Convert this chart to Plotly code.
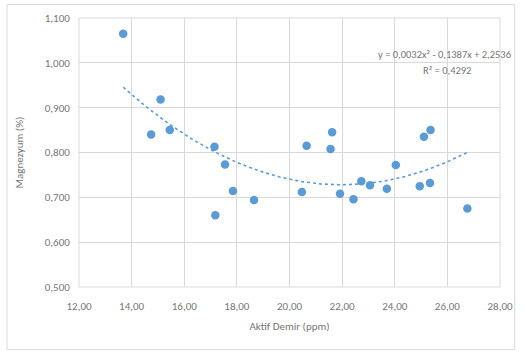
import numpy as np
import plotly.graph_objects as go

aktif_demir = [13.68, 15.10, 14.74, 15.45, 17.15, 17.55, 17.85, 18.65, 17.18,
               20.65, 21.62, 21.56, 20.47, 21.92, 22.43, 22.73, 23.06, 23.70,
               24.04, 25.11, 25.36, 24.95, 25.34, 26.76]
magnezyum = [1.065, 0.918, 0.840, 0.850, 0.813, 0.773, 0.714, 0.694, 0.660,
             0.815, 0.845, 0.808, 0.712, 0.708, 0.696, 0.736, 0.727, 0.719,
             0.772, 0.835, 0.850, 0.725, 0.732, 0.675]
equation_text = "y = 0,0032x² - 0,1387x + 2,2536"
r2_text = "R² = 0,4292"

# polynomial (order 2) trendline, as the spreadsheet computes it
coef = np.polyfit(aktif_demir, magnezyum, 2)
xt = np.linspace(min(aktif_demir), max(aktif_demir), 200)
yt = np.polyval(coef, xt)

blue = "#5B9BD5"
grey = "#767676"
font_family = "Carlito, Calibri, 'Liberation Sans Narrow', 'Open Sans', sans-serif"

fig = go.Figure()
fig.add_trace(go.Scatter(x=xt, y=yt, mode="lines",
                         line=dict(color=blue, width=1.6, dash="dot"),
                         hoverinfo="skip", showlegend=False))
fig.add_trace(go.Scatter(x=aktif_demir, y=magnezyum, mode="markers",
                         marker=dict(color=blue, size=8.5),
                         showlegend=False))

fig.update_layout(
    width=525, height=355,
    margin=dict(l=79, r=19, t=16, b=68),
    paper_bgcolor="white", plot_bgcolor="white",
    separators=",.",
    font=dict(family=font_family, color=grey, size=11),
    xaxis=dict(range=[12, 28], dtick=2, tick0=12, tickformat=".2f",
               showgrid=True, gridcolor="#D9D9D9", gridwidth=1,
               zeroline=False, showline=False, ticks="outside", ticklen=9,
               tickcolor="rgba(0,0,0,0)",
               tickfont=dict(size=11, color=grey),
               title=dict(text="Aktif Demir (ppm)", font=dict(size=11, color=grey), standoff=10),
               fixedrange=True),
    yaxis=dict(range=[0.5, 1.1], dtick=0.1, tick0=0.5, tickformat=".3f",
               showgrid=True, gridcolor="#D9D9D9", gridwidth=1,
               zeroline=False, showline=False, ticks="outside", ticklen=6,
               tickcolor="rgba(0,0,0,0)",
               tickfont=dict(size=11, color=grey),
               title=dict(text="Magnezyum (%)", font=dict(size=11, color=grey), standoff=18),
               fixedrange=True),
    shapes=[
        dict(type="rect", xref="paper", yref="paper", x0=0, x1=1, y0=0, y1=1,
             line=dict(color="#D9D9D9", width=1), layer="below"),
        dict(type="rect", xref="paper", yref="paper", x0=-0.171, x1=1.035,
             y0=-0.233, y1=1.05, line=dict(color="#D9D9D9", width=1)),
    ],
    annotations=[
        dict(text=equation_text, xref="paper", yref="paper", x=0.869, y=0.865,
             showarrow=False, font=dict(size=10.5, color=grey), xanchor="center", yanchor="middle"),
        dict(text=r2_text, xref="paper", yref="paper", x=0.874, y=0.806,
             showarrow=False, font=dict(size=10.5, color=grey), xanchor="center", yanchor="middle"),
    ],
)

fig.write_html("out.html", config={"displayModeBar": False},
               post_script="document.body.style.margin='0';")
